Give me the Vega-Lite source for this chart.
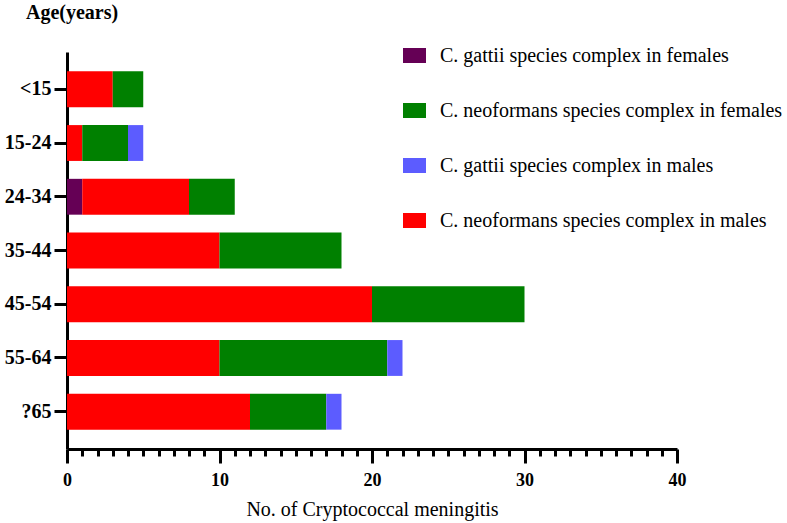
{
  "$schema": "https://vega.github.io/schema/vega-lite/v6.json",
  "autosize": {"type": "none"},
  "padding": {"left": 67, "top": 52, "right": 110, "bottom": 74},
  "width": 610,
  "height": 397,
  "background": "white",
  "title": {
    "text": "Age(years)",
    "anchor": "start",
    "frame": "group",
    "font": "Liberation Serif",
    "fontSize": 20,
    "fontWeight": "bold",
    "color": "black",
    "dx": -41,
    "offset": 21
  },
  "data": {
    "values": [
      {"age": "<15", "group": "C. neoformans species complex in males", "count": 3, "ord": 2},
      {"age": "<15", "group": "C. neoformans species complex in females", "count": 2, "ord": 3},
      {"age": "15-24", "group": "C. neoformans species complex in males", "count": 1, "ord": 2},
      {"age": "15-24", "group": "C. neoformans species complex in females", "count": 3, "ord": 3},
      {"age": "15-24", "group": "C. gattii species complex in males", "count": 1, "ord": 4},
      {"age": "24-34", "group": "C. gattii species complex in females", "count": 1, "ord": 1},
      {"age": "24-34", "group": "C. neoformans species complex in males", "count": 7, "ord": 2},
      {"age": "24-34", "group": "C. neoformans species complex in females", "count": 3, "ord": 3},
      {"age": "35-44", "group": "C. neoformans species complex in males", "count": 10, "ord": 2},
      {"age": "35-44", "group": "C. neoformans species complex in females", "count": 8, "ord": 3},
      {"age": "45-54", "group": "C. neoformans species complex in males", "count": 20, "ord": 2},
      {"age": "45-54", "group": "C. neoformans species complex in females", "count": 10, "ord": 3},
      {"age": "55-64", "group": "C. neoformans species complex in males", "count": 10, "ord": 2},
      {"age": "55-64", "group": "C. neoformans species complex in females", "count": 11, "ord": 3},
      {"age": "55-64", "group": "C. gattii species complex in males", "count": 1, "ord": 4},
      {"age": "?65", "group": "C. neoformans species complex in males", "count": 12, "ord": 2},
      {"age": "?65", "group": "C. neoformans species complex in females", "count": 5, "ord": 3},
      {"age": "?65", "group": "C. gattii species complex in males", "count": 1, "ord": 4}
    ]
  },
  "mark": {"type": "bar"},
  "encoding": {
    "y": {
      "field": "age",
      "type": "nominal",
      "sort": ["<15", "15-24", "24-34", "35-44", "45-54", "55-64", "?65"],
      "scale": {"paddingInner": 0.333, "paddingOuter": 0.36},
      "axis": {
        "title": null,
        "labelFont": "Liberation Serif",
        "labelFontSize": 20,
        "labelFontWeight": "bold",
        "labelColor": "black",
        "labelPadding": 3,
        "domainColor": "black",
        "domainWidth": 3,
        "tickColor": "black",
        "tickWidth": 3,
        "tickSize": 13
      }
    },
    "x": {
      "field": "count",
      "type": "quantitative",
      "stack": "zero",
      "scale": {"domain": [0, 40], "nice": false},
      "axis": {
        "title": "No. of Cryptococcal meningitis",
        "titleFont": "Liberation Serif",
        "titleFontSize": 20,
        "titleFontWeight": "normal",
        "titleColor": "black",
        "titlePadding": 10,
        "values": [0,1,2,3,4,5,6,7,8,9,10,11,12,13,14,15,16,17,18,19,20,21,22,23,24,25,26,27,28,29,30,31,32,33,34,35,36,37,38,39,40],
        "labelExpr": "datum.value % 10 === 0 ? datum.label : ''",
        "labelOverlap": false,
        "labelFlush": false,
        "labelFont": "Liberation Serif",
        "labelFontSize": 18,
        "labelFontWeight": "bold",
        "labelColor": "black",
        "labelPadding": 8,
        "grid": false,
        "domainColor": "black",
        "domainWidth": 3,
        "tickColor": "black",
        "tickWidth": 3,
        "tickSize": {"condition": {"test": "datum.value % 10 === 0", "value": 14}, "value": 7}
      }
    },
    "color": {
      "field": "group",
      "type": "nominal",
      "scale": {
        "domain": ["C. gattii species complex in females", "C. neoformans species complex in females", "C. gattii species complex in males", "C. neoformans species complex in males"],
        "range": ["#650055", "#008000", "#5C5CFF", "#FF0000"]
      },
      "legend": {
        "title": null,
        "orient": "none",
        "legendX": 336,
        "legendY": -8,
        "padding": 0,
        "symbolType": "M-1,-0.65L1,-0.65L1,0.65L-1,0.65Z",
        "symbolSize": 529,
        "symbolStrokeWidth": 0,
        "labelFont": "Liberation Serif",
        "labelFontSize": 20,
        "labelColor": "black",
        "labelOffset": 14,
        "labelLimit": 400,
        "rowPadding": 33
      }
    },
    "order": {"field": "ord", "type": "quantitative"}
  },
  "config": {"view": {"stroke": null}}
}
